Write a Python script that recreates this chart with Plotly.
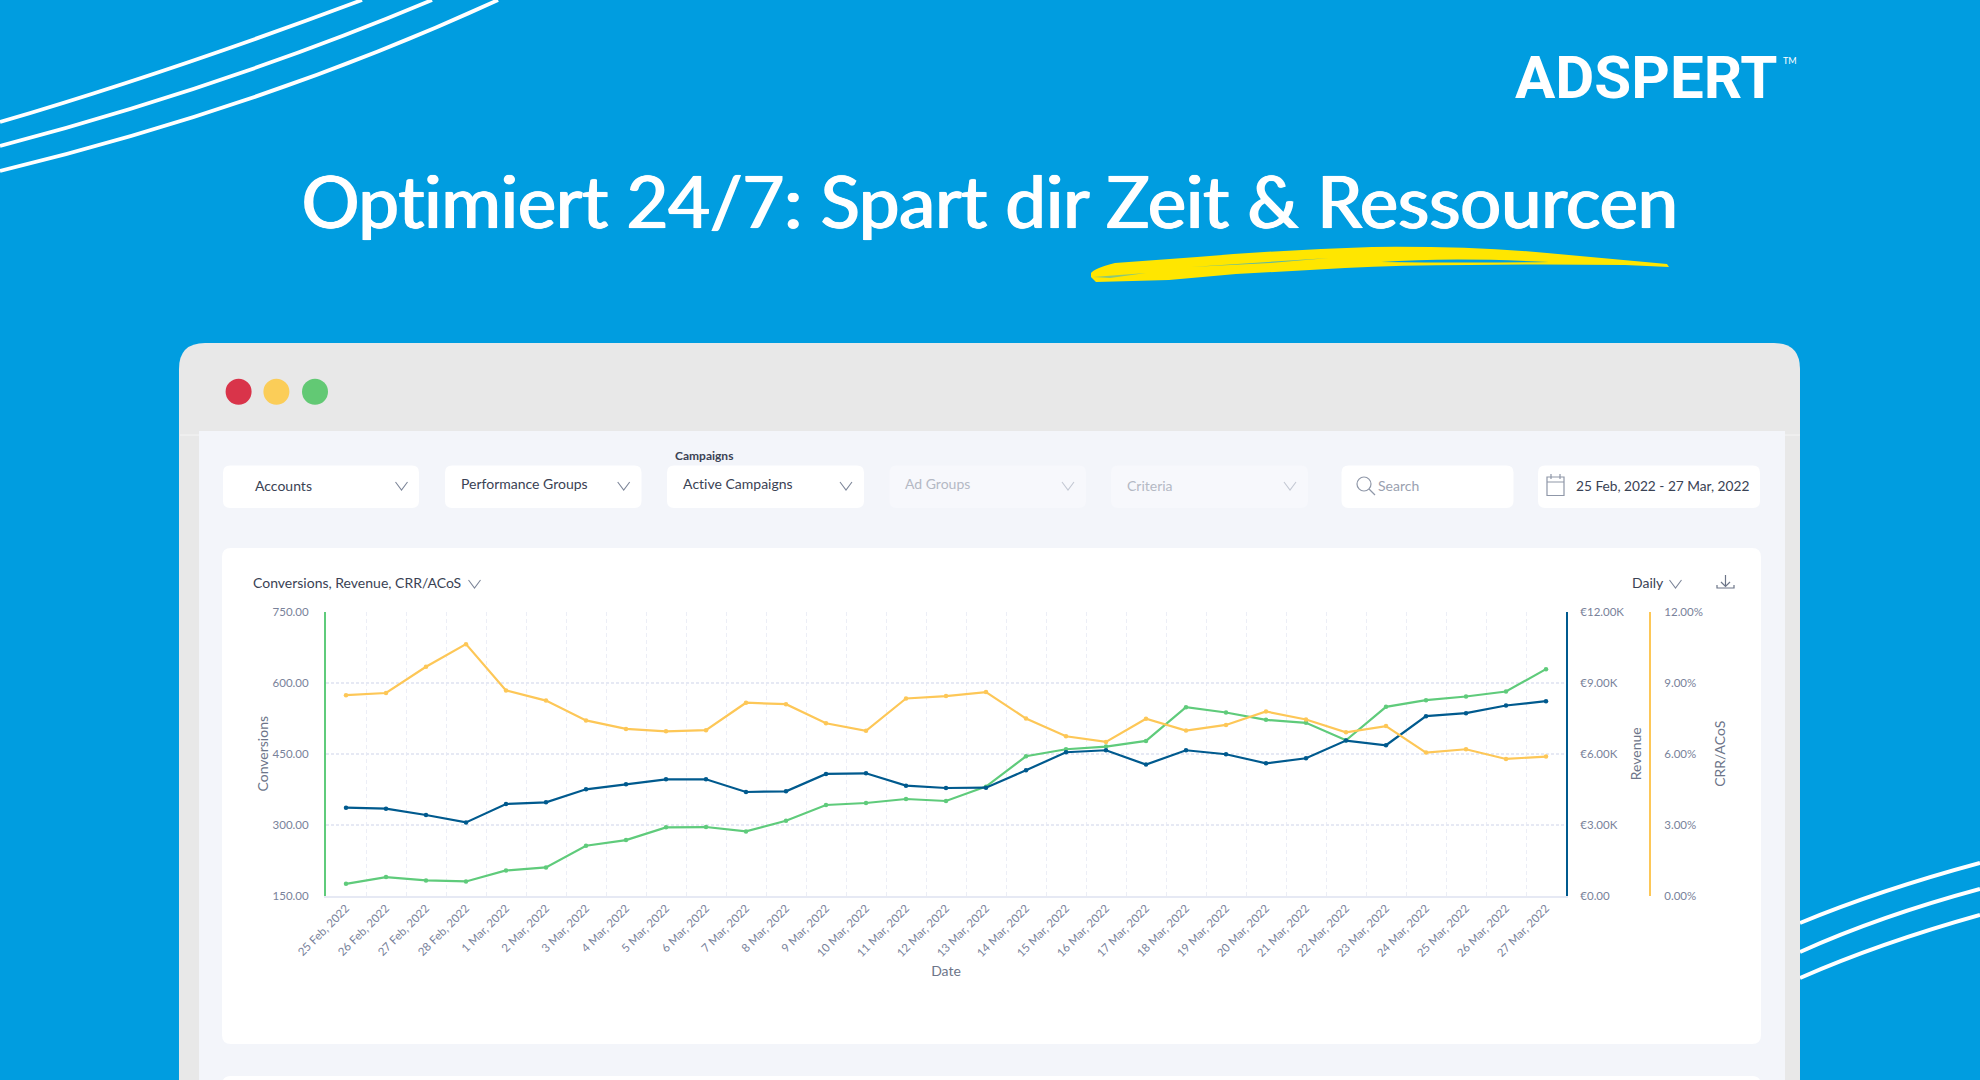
import plotly.graph_objects as go

W, H = 1980, 1080
FONT = "Lato"

dates = ["25 Feb, 2022", "26 Feb, 2022", "27 Feb, 2022", "28 Feb, 2022", "1 Mar, 2022", "2 Mar, 2022",
         "3 Mar, 2022", "4 Mar, 2022", "5 Mar, 2022", "6 Mar, 2022", "7 Mar, 2022", "8 Mar, 2022",
         "9 Mar, 2022", "10 Mar, 2022", "11 Mar, 2022", "12 Mar, 2022", "13 Mar, 2022", "14 Mar, 2022",
         "15 Mar, 2022", "16 Mar, 2022", "17 Mar, 2022", "18 Mar, 2022", "19 Mar, 2022", "20 Mar, 2022",
         "21 Mar, 2022", "22 Mar, 2022", "23 Mar, 2022", "24 Mar, 2022", "25 Mar, 2022", "26 Mar, 2022",
         "27 Mar, 2022"]
conversions = [174.7, 188.9, 181.8, 179.7, 203.0, 209.4, 255.3, 267.3, 294.2, 294.9, 285.7, 308.3,
               341.5, 345.8, 354.2, 350.0, 380.4, 444.7, 459.5, 465.2, 477.2, 548.6, 537.3, 521.7,
               515.4, 478.6, 549.3, 563.4, 571.2, 581.8, 629.1]
revenue = [3717, 3675, 3406, 3095, 3873, 3943, 4495, 4707, 4919, 4919, 4382, 4410,
           5145, 5173, 4650, 4551, 4565, 5300, 6064, 6148, 5540, 6148, 5979, 5597,
           5809, 6558, 6360, 7590, 7717, 8042, 8226]
crr = [8.48, 8.57, 9.68, 10.64, 8.68, 8.25, 7.41, 7.05, 6.95, 7.00, 8.16, 8.10,
       7.29, 6.97, 8.34, 8.44, 8.61, 7.49, 6.74, 6.50, 7.48, 6.98, 7.22, 7.79,
       7.45, 6.91, 7.17, 6.05, 6.19, 5.78, 5.88]

conv_ticks = [150, 300, 450, 600, 750]
conv_labels = ["150.00", "300.00", "450.00", "600.00", "750.00"]
rev_ticks = [0, 3000, 6000, 9000, 12000]
rev_labels = ["€0.00", "€3.00K", "€6.00K", "€9.00K", "€12.00K"]
crr_ticks = [0, 3, 6, 9, 12]
crr_labels = ["0.00%", "3.00%", "6.00%", "9.00%", "12.00%"]

BLUE_BG = "#009de0"
GREEN = "#5fcb7b"
NAVY = "#005a8e"
YELLOW = "#fdc757"
TICK = "#79829a"
AXIS_TITLE = "#6d7589"
DARK = "#3a4254"
GRID = "#e6e9f4"
GRID_V = "#eceef6"


def px(x):
    return x / W


def py(y):
    return 1 - y / H


def to_paper(path):
    # path is written in screen pixels, shapes need paper fractions
    out = []
    is_x = True
    for tok in path.split():
        if tok.isalpha():
            out.append(tok)
            is_x = True
        else:
            v = float(tok)
            out.append(f"{px(v):.5f}" if is_x else f"{py(v):.5f}")
            is_x = not is_x
    return " ".join(out)


def path_shape(path, fill=None, line=None, width=0):
    d = dict(type="path", xref="paper", yref="paper", layer="below", path=to_paper(path))
    if fill:
        d["fillcolor"] = fill
    d["line"] = dict(color=line or "rgba(0,0,0,0)", width=width)
    return d


def round_rect(x0, y0, x1, y1, r, fill, bottom=True):
    p = f"M {x0} {y0 + r} Q {x0} {y0} {x0 + r} {y0} L {x1 - r} {y0} Q {x1} {y0} {x1} {y0 + r} "
    if bottom:
        p += f"L {x1} {y1 - r} Q {x1} {y1} {x1 - r} {y1} L {x0 + r} {y1} Q {x0} {y1} {x0} {y1 - r} Z"
    else:
        p += f"L {x1} {y1} L {x0} {y1} Z"
    return path_shape(p, fill=fill)


def chevron(cx, cy, color="#7d8699"):
    return path_shape(f"M {cx - 6} {cy - 4} L {cx} {cy + 4} L {cx + 6} {cy - 4}", line=color, width=1.1)


def dot(cx, cy, r, color):
    return dict(type="circle", xref="paper", yref="paper", layer="below", fillcolor=color,
                line=dict(width=0), x0=px(cx - r), x1=px(cx + r), y0=py(cy + r), y1=py(cy - r))


def label(text, x, y, size=14, color=DARK, anchor="left", family=FONT, **kw):
    font = dict(family=family, size=size, color=color)
    font.update(kw.pop("font_extra", {}))
    return dict(text=text, x=px(x), y=py(y), xref="paper", yref="paper", showarrow=False,
                xanchor=anchor, yanchor="middle", font=font, **kw)


shapes = [
    # stripes on the blue background
    path_shape("M 0 122 Q 170 72 362 0", line="white", width=3.8),
    path_shape("M 0 146 Q 230 85 432 0", line="white", width=3.8),
    path_shape("M 0 171 Q 270 105 498 0", line="white", width=3.8),
    path_shape("M 1800 923 Q 1880 890 1980 863", line="white", width=4),
    path_shape("M 1800 952 Q 1880 916 1980 889", line="white", width=4),
    path_shape("M 1800 978 Q 1880 943 1980 915", line="white", width=4),
    # brush stroke under the headline
    path_shape("M 1091 273 Q 1095 268 1115 263 L 1197 257 Q 1280 250 1372 247 Q 1470 246 1547 253 "
               "L 1667 264 L 1669 267 L 1625 265 Q 1540 264 1469 265 Q 1400 265 1345 268 L 1236 274 "
               "L 1169 280 L 1096 282 L 1091 277 Z", fill="#ffe600"),
    path_shape("M 1381 262 Q 1450 257 1549 262 Q 1470 263 1381 262 Z", fill=BLUE_BG),
    path_shape("M 1191 267 L 1329 258 L 1270 263 Z", fill="#5ab8a8"),
    path_shape("M 1093 277 L 1146 273 L 1110 278 Z", fill="#8cc878"),
    # app window
    round_rect(179, 343, 1800, 1080, 26, "#e8e8e8", bottom=False),
    path_shape("M 199 431 L 1785 431 L 1785 1080 L 199 1080 Z", fill="#f3f5fa"),
    path_shape("M 180 435 L 199 435", line="#f5f5f5", width=1),
    path_shape("M 1785 435 L 1800 435", line="#f5f5f5", width=1),
    dot(238.6, 391.7, 13, "#d9344a"),
    dot(276.4, 391.7, 13, "#fbcd58"),
    dot(315, 391.7, 13, "#62c974"),
    # filter boxes
    round_rect(223, 465.5, 419, 508, 7, "white"),
    round_rect(445, 465.5, 641.5, 508, 7, "white"),
    round_rect(667, 465.5, 864, 508, 7, "white"),
    round_rect(889.5, 465.5, 1086, 508, 7, "#f7f8fc"),
    round_rect(1111, 465.5, 1308, 508, 7, "#f7f8fc"),
    round_rect(1341.5, 465.5, 1513.5, 508, 7, "white"),
    round_rect(1538, 465.5, 1760, 508, 7, "white"),
    # chart cards
    round_rect(222, 548, 1761, 1044, 9, "white"),
    round_rect(222, 1076, 1761, 1100, 9, "white", bottom=False),
    chevron(401.5, 486),
    chevron(623.7, 486),
    chevron(846, 486),
    chevron(1068, 486, "#c3c8d3"),
    chevron(1290, 486, "#c3c8d3"),
    chevron(474.5, 584),
    chevron(1675.5, 584),
    # search icon
    dict(type="circle", xref="paper", yref="paper", layer="below", line=dict(color="#8f97a8", width=1.2),
         x0=px(1357), x1=px(1371), y0=py(491), y1=py(477)),
    path_shape("M 1369 489 L 1375 495", line="#8f97a8", width=1.2),
    # calendar icon
    path_shape("M 1547 477 L 1564 477 L 1564 495.5 L 1547 495.5 Z M 1547 482 L 1564 482", line="#8f97a8", width=1.2),
    path_shape("M 1551 474 L 1551 479 M 1560 474 L 1560 479", line="#8f97a8", width=1.2),
    # download icon
    path_shape("M 1725.5 575 L 1725.5 586 M 1721 582 L 1725.5 586.5 L 1730 582", line="#6c7588", width=1.2),
    path_shape("M 1717 585 L 1717 588 L 1734 588 L 1734 585", line="#6c7588", width=1.2),
]

annotations = [
    label("Optimiert 24/7: Spart dir Zeit &amp; Ressourcen", 989.5, 200, size=72, color="white", anchor="center",
          font_extra=dict(shadow="1px 0 0 white, -1px 0 0 white, 0 0 1px white")),
    label("<b>ADSPERT</b>", 1513, 78, size=60, color="white", family="Roboto"),
    label("TM", 1781, 60, size=9, color="white"),
    label("Accounts", 253, 485.5),
    label("Performance Groups", 458.5, 483.5),
    label("<b>Campaigns</b>", 673, 455, size=12),
    label("Active Campaigns", 680.5, 483.5),
    label("Ad Groups", 903, 483.5, color="#b4b9c4"),
    label("Criteria", 1124.5, 486, color="#b4b9c4"),
    label("Search", 1376, 486, color="#9aa1b0"),
    label("25 Feb, 2022 - 27 Mar, 2022", 1574, 486, size=13.7),
    label("Conversions, Revenue, CRR/ACoS", 250.5, 582),
    label("Daily", 1629.5, 582),
]

fig = go.Figure()
marker = dict(size=4.5)
fig.add_trace(go.Scatter(x=dates, y=conversions, name="Conversions", mode="lines+markers",
                         line=dict(color=GREEN, width=2.2), marker=marker, yaxis="y"))
fig.add_trace(go.Scatter(x=dates, y=crr, name="CRR/ACoS", mode="lines+markers",
                         line=dict(color=YELLOW, width=2.2), marker=marker, yaxis="y3"))
fig.add_trace(go.Scatter(x=dates, y=revenue, name="Revenue", mode="lines+markers",
                         line=dict(color=NAVY, width=2.2), marker=marker, yaxis="y2"))

tick_font = dict(family=FONT, size=11.5, color=TICK)
title_font = dict(family=FONT, size=14, color=AXIS_TITLE)
hidden_tick = dict(ticks="outside", tickwidth=1, tickcolor="rgba(0,0,0,0)", automargin=False)

fig.update_layout(
    width=W, height=H, autosize=False,
    margin=dict(l=0, r=0, t=0, b=0),
    paper_bgcolor=BLUE_BG, plot_bgcolor="rgba(0,0,0,0)",
    showlegend=False,
    shapes=shapes, annotations=annotations,
    xaxis=dict(domain=[px(326), px(1566)], type="category", categoryorder="array", categoryarray=dates,
               range=[-0.5, 30.5], tickson="boundaries", tickangle=-45, tickfont=tick_font,
               ticks="outside", ticklen=5, tickcolor="rgba(0,0,0,0)",
               showgrid=True, gridcolor=GRID_V, griddash="4px,3px", gridwidth=1, automargin=False,
               showline=True, linecolor=GRID, linewidth=1.5, zeroline=False,
               title=dict(text="Date", font=title_font, standoff=8)),
    yaxis=dict(domain=[py(895.5), py(612)], range=[150, 750], tickvals=conv_ticks, ticktext=conv_labels,
               tickfont=tick_font, showgrid=True, gridcolor=GRID, griddash="3px,2px", gridwidth=1.5,
               showline=True, linecolor=GREEN, linewidth=2, zeroline=False, ticklen=13,
               title=dict(text="Conversions", font=title_font, standoff=1), **hidden_tick),
    yaxis2=dict(overlaying="y", side="right", anchor="x", range=[0, 12000], tickvals=rev_ticks,
                ticktext=rev_labels, tickfont=tick_font, showgrid=False, zeroline=False,
                showline=True, linecolor=NAVY, linewidth=2, ticklen=10,
                title=dict(text="Revenue", font=title_font, standoff=8), **hidden_tick),
    yaxis3=dict(overlaying="y", side="right", anchor="free", position=px(1650), range=[0, 12], tickvals=crr_ticks,
                ticktext=crr_labels, tickfont=tick_font, showgrid=False, zeroline=False,
                showline=True, linecolor=YELLOW, linewidth=2, ticklen=11,
                title=dict(text="CRR/ACoS", font=title_font, standoff=12), **hidden_tick),
)

no_ligatures = ("document.body.style.margin='0';"
                "var s=document.createElement('style');"
                "s.textContent='svg text{font-variant-ligatures:none !important;"
                "font-feature-settings:\"liga\" 0,\"clig\" 0 !important}';"
                "document.head.appendChild(s);")
fig.write_html("out.html", config=dict(displayModeBar=False), post_script=no_ligatures)
